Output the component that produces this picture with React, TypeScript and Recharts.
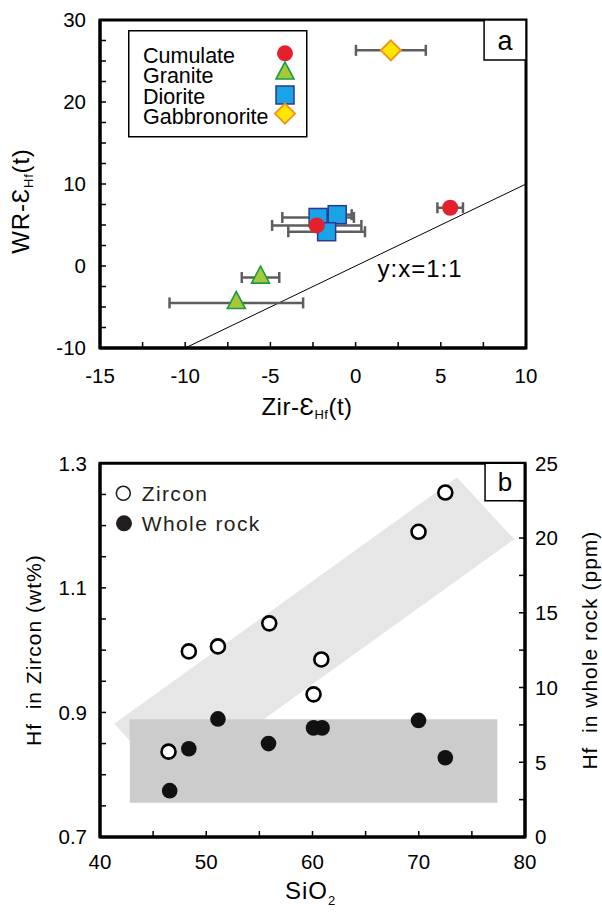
import React from 'react';
import {
  ScatterChart,
  Scatter,
  XAxis,
  YAxis,
  ErrorBar,
  ReferenceLine,
  ReferenceArea,
  ReferenceDot,
  Legend,
  Label,
} from 'recharts';

const FONT = '"Liberation Sans", Arial, Helvetica, sans-serif';

// ---------------- Panel a data ----------------
const cumulate = [
  { x: 5.55, y: 7.1, ex: 0.75 },
  { x: -2.28, y: 4.95, ex: 2.62 },
];
const granite = [
  { x: -5.58, y: -1.4, ex: 1.1 },
  { x: -7.0, y: -4.5, ex: 3.92 },
];
const diorite = [
  { x: -2.2, y: 5.92, ex: 2.1 },
  { x: -1.08, y: 6.26, ex: 0.85 },
  { x: -1.7, y: 4.18, ex: 2.25 },
];
const gabbronorite = [{ x: 2.07, y: 26.3, ex: 2.05 }];

const legendANames = ['Cumulate', 'Granite', 'Diorite', 'Gabbronorite'];
const aXTicks = [-15, -12.5, -10, -7.5, -5, -2.5, 0, 2.5, 5, 7.5, 10];
const aXLabels = [-15, -10, -5, 0, 5, 10];
const aYTicks = [-10, -7.5, -5, -2.5, 0, 2.5, 5, 7.5, 10, 12.5, 15, 17.5, 20, 22.5, 25, 27.5, 30];
const aYLabels = [-10, 0, 10, 20, 30];
const oneToOne = [
  { x: -10, y: -10 },
  { x: 10, y: 10 },
];
const oneToOneLabel = { x: 3.78, y: -1.3, text: 'y:x=1:1' };
const boxA = { x1: 7.54, x2: 10, y1: 25.12, y2: 30, text: 'a' };

// ---------------- Panel b data ----------------
const zirconSiO2 = [46.45, 48.36, 51.1, 55.93, 60.1, 60.83, 69.98, 72.5];
const zirconHf = [0.837, 0.998, 1.006, 1.043, 0.929, 0.985, 1.19, 1.253];
const wrSiO2 = [46.56, 48.36, 51.1, 55.86, 60.1, 60.9, 69.98, 72.5];
const wrHf = [3.1, 5.9, 7.9, 6.25, 7.3, 7.3, 7.8, 5.3];
const bandCorners = [
  { x: 41.33, y: 0.882 },
  { x: 73.59, y: 1.2775 },
  { x: 78.99, y: 1.178 },
  { x: 46.74, y: 0.783 },
];
const wrRange = { x1: 42.8, x2: 77.4, y1: 0.755, y2: 0.889 };
const bXTicks = [40, 45, 50, 55, 60, 65, 70, 75, 80];
const bXLabels = [40, 50, 60, 70, 80];
const bYLTicks = [0.7, 0.75, 0.8, 0.85, 0.9, 0.95, 1.0, 1.05, 1.1, 1.15, 1.2, 1.25, 1.3];
const bYLLabels = [0.7, 0.9, 1.1, 1.3];
const bYRTicks = [0, 2.5, 5, 7.5, 10, 12.5, 15, 17.5, 20, 22.5, 25];
const bYRLabels = [0, 5, 10, 15, 20, 25];
const boxB = { x1: 76.24, x2: 80, y1: 1.24, y2: 1.3, text: 'b' };
const legendBNames = ['Zircon', 'Whole rock'];

const zirconData = zirconSiO2.map((x, i) => ({ x, y: zirconHf[i] }));
const wrData = wrSiO2.map((x, i) => ({ x, y: wrHf[i] }));

// ---------------- styles ----------------
const RED = '#e5202e';
const AXIS_LINE = { stroke: '#000', strokeWidth: 3 };
const TICK_LINE = { stroke: '#000', strokeWidth: 1.5 };
const ERR = { stroke: '#5e5e5e', strokeWidth: 2.5 };
const TICK_FONT = 20.5;

const makeTick = (labels: number[], anchor: string) => (props: any) => {
  const { x, y, payload } = props;
  if (!labels.includes(payload.value)) return <g />;
  return (
    <text x={x} y={y} dy="0.355em" textAnchor={anchor} fontSize={TICK_FONT} fill="#000" fontFamily={FONT}>
      {String(payload.value)}
    </text>
  );
};

const drawCircle = (cx: number, cy: number) => <circle cx={cx} cy={cy} r={8} fill={RED} />;
const drawTriangle = (cx: number, cy: number) => {
  const h = 17;
  const hw = 9;
  const pts = `${cx},${cy - (2 * h) / 3} ${cx + hw},${cy + h / 3} ${cx - hw},${cy + h / 3}`;
  return <polygon points={pts} fill="#a6c93a" stroke="#1d9a46" strokeWidth={1.6} />;
};
const drawSquare = (cx: number, cy: number) => (
  <rect x={cx - 9} y={cy - 9} width={18} height={18} fill="#1ba3e8" stroke="#2b3990" strokeWidth={1.5} />
);
const drawDiamond = (cx: number, cy: number) => (
  <polygon
    points={`${cx},${cy - 10} ${cx + 10},${cy} ${cx},${cy + 10} ${cx - 10},${cy}`}
    fill="#ffe800"
    stroke="#f39221"
    strokeWidth={2}
  />
);
const markersA = [drawCircle, drawTriangle, drawSquare, drawDiamond];

const shapeOf = (fn: (cx: number, cy: number) => any) => (props: any) => fn(props.cx, props.cy);
const emptyShape = () => <g />;

const YLabelA = (p: any) => {
  const vb = p.viewBox || { x: 0, y: 20, width: 100, height: 328 };
  const cx = vb.x + 28.5;
  const cy = vb.y + vb.height / 2 + 17;
  return (
    <text transform={`translate(${cx},${cy}) rotate(-90)`} textAnchor="middle" fontSize={24} fill="#000" fontFamily={FONT} letterSpacing={0.8}>
      WR-Ɛ
      <tspan fontSize={13} dy={4}>Hf</tspan>
      <tspan fontSize={24} dy={-4}>(t)</tspan>
    </text>
  );
};
const XLabelA = (p: any) => {
  const vb = p.viewBox || { x: 100, y: 348, width: 426, height: 82 };
  const cx = vb.x + vb.width / 2 - 6;
  const cy = vb.y + 67;
  return (
    <text x={cx} y={cy} textAnchor="middle" fontSize={24} fill="#000" fontFamily={FONT} letterSpacing={0.5}>
      Zir-Ɛ
      <tspan fontSize={13} dy={4}>Hf</tspan>
      <tspan fontSize={24} dy={-4}>(t)</tspan>
    </text>
  );
};

const YLabelBL = (p: any) => {
  const vb = p.viewBox;
  const cx = vb.x + 41;
  const cy = vb.y + vb.height / 2;
  return (
    <text transform={`translate(${cx},${cy}) rotate(-90)`} textAnchor="middle" fontSize={21} fill="#000" fontFamily={FONT} letterSpacing={1} style={{ whiteSpace: 'pre' }}>
      {'Hf  in Zircon (wt%)'}
    </text>
  );
};
const YLabelBR = (p: any) => {
  const vb = p.viewBox;
  const cx = vb.x + 72;
  const cy = vb.y + vb.height / 2;
  return (
    <text transform={`translate(${cx},${cy}) rotate(-90)`} textAnchor="middle" fontSize={21} fill="#000" fontFamily={FONT} letterSpacing={1} style={{ whiteSpace: 'pre' }}>
      {'Hf  in whole rock (ppm)'}
    </text>
  );
};
const XLabelB = (p: any) => {
  const vb = p.viewBox;
  const cx = vb.x + vb.width / 2 - 2;
  const cy = vb.y + 62;
  return (
    <text x={cx} y={cy} textAnchor="middle" fontSize={24} fill="#000" fontFamily={FONT} letterSpacing={1}>
      SiO
      <tspan fontSize={13} dy={6}>2</tspan>
    </text>
  );
};

const LegendA = () => (
  <svg width={180} height={108} style={{ display: 'block' }}>
    <rect x={0.75} y={0.75} width={178} height={106} fill="#fff" stroke="#000" strokeWidth={1.5} />
    {legendANames.map((name, i) => {
      const baseline = 33.3 + i * 20.1;
      return (
        <g key={name}>
          <text x={15} y={baseline} fontSize={21.5} fill="#000" fontFamily={FONT}>
            {name}
          </text>
          {markersA[i](157, baseline - 10 + (i === 2 ? 1.5 : 0))}
        </g>
      );
    })}
  </svg>
);

const LegendB = () => (
  <svg width={170} height={62} style={{ display: 'block' }}>
    <circle cx={13.3} cy={15.3} r={7} fill="#fff" stroke="#231f20" strokeWidth={1.6} />
    <text x={31.7} y={23} fontSize={21} fill="#231f20" fontFamily={FONT} letterSpacing={1.4}>
      {legendBNames[0]}
    </text>
    <circle cx={14} cy={45.3} r={8} fill="#231f20" />
    <text x={31.7} y={53} fontSize={21} fill="#231f20" fontFamily={FONT} letterSpacing={1.4}>
      {legendBNames[1]}
    </text>
  </svg>
);

const BandShape = (props: any) => {
  const { x, y, width, height } = props;
  const xs = bandCorners.map((c) => c.x);
  const ys = bandCorners.map((c) => c.y);
  const minX = Math.min(...xs);
  const maxX = Math.max(...xs);
  const minY = Math.min(...ys);
  const maxY = Math.max(...ys);
  const pts = bandCorners
    .map((c) => `${x + ((c.x - minX) / (maxX - minX)) * width},${y + ((maxY - c.y) / (maxY - minY)) * height}`)
    .join(' ');
  return <polygon points={pts} fill="#e6e6e6" stroke="none" />;
};

const bandXs = bandCorners.map((c) => c.x);
const bandYs = bandCorners.map((c) => c.y);

export default function App() {
  return (
    <div style={{ position: 'absolute', left: 0, top: 0, width: 602, height: 924, background: '#fff', fontFamily: FONT }}>
      <div style={{ position: 'absolute', left: 0, top: 0 }}>
        <ScatterChart width={602} height={430} margin={{ top: 20, right: 76, bottom: 0, left: 0 }}>
          <XAxis
            type="number"
            dataKey="x"
            domain={[-15, 10]}
            ticks={aXTicks}
            interval={0}
            allowDataOverflow
            height={82}
            tickSize={-6}
            tickMargin={34}
            axisLine={AXIS_LINE}
            tickLine={TICK_LINE}
            tick={makeTick(aXLabels, 'middle')}
          >
            <Label content={XLabelA} />
          </XAxis>
          <YAxis
            type="number"
            dataKey="y"
            domain={[-10, 30]}
            ticks={aYTicks}
            interval={0}
            allowDataOverflow
            width={100}
            tickSize={-6}
            tickMargin={20}
            axisLine={AXIS_LINE}
            tickLine={TICK_LINE}
            tick={makeTick(aYLabels, 'end')}
          >
            <Label content={YLabelA} />
          </YAxis>
          <ReferenceArea x1={-15} x2={10} y1={-10} y2={30} fill="none" fillOpacity={0} stroke="#000" strokeWidth={3} />
          <ReferenceLine segment={oneToOne} stroke="#000" strokeWidth={1} />
          <ReferenceDot
            x={oneToOneLabel.x}
            y={oneToOneLabel.y}
            r={0}
            shape={(p: any) => (
              <text x={p.cx} y={p.cy} textAnchor="middle" fontSize={24} fill="#000" fontFamily={FONT} letterSpacing={1}>
                {oneToOneLabel.text}
              </text>
            )}
          />
          <ReferenceArea
            x1={boxA.x1}
            x2={boxA.x2}
            y1={boxA.y1}
            y2={boxA.y2}
            fill="#fff"
            fillOpacity={1}
            stroke="#000"
            strokeWidth={1.5}
            label={{ value: boxA.text, position: 'center', fontSize: 27, fill: '#000' }}
          />
          <Scatter name="Granite" data={granite} shape={shapeOf(drawTriangle)} isAnimationActive={false}>
            <ErrorBar dataKey="ex" direction="x" width={5.5} {...ERR} />
          </Scatter>
          <Scatter name="Gabbronorite" data={gabbronorite} shape={shapeOf(drawDiamond)} isAnimationActive={false}>
            <ErrorBar dataKey="ex" direction="x" width={5.5} {...ERR} />
          </Scatter>
          <Scatter name="Diorite" data={diorite} shape={shapeOf(drawSquare)} isAnimationActive={false} />
          <Scatter name="Diorite error" data={diorite} shape={emptyShape} isAnimationActive={false} legendType="none">
            <ErrorBar dataKey="ex" direction="x" width={5.5} {...ERR} />
          </Scatter>
          <Scatter name="Cumulate" data={cumulate} shape={shapeOf(drawCircle)} isAnimationActive={false}>
            <ErrorBar dataKey="ex" direction="x" width={5.5} {...ERR} />
          </Scatter>
          <Legend
            layout="horizontal"
            verticalAlign="middle"
            align="center"
            content={LegendA}
            wrapperStyle={{ position: 'absolute', left: 128, top: 30, width: 180, height: 108 }}
          />
        </ScatterChart>
      </div>
      <div style={{ position: 'absolute', left: 0, top: 430 }}>
        <ScatterChart width={602} height={494} margin={{ top: 33.3, right: 0, bottom: 0, left: 0 }}>
          <XAxis
            type="number"
            dataKey="x"
            domain={[40, 80]}
            ticks={bXTicks}
            interval={0}
            allowDataOverflow
            height={87}
            tickSize={-6}
            tickMargin={31}
            axisLine={AXIS_LINE}
            tickLine={TICK_LINE}
            tick={makeTick(bXLabels, 'middle')}
          >
            <Label content={XLabelB} />
          </XAxis>
          <YAxis
            yAxisId="L"
            type="number"
            dataKey="y"
            domain={[0.7, 1.3]}
            ticks={bYLTicks}
            interval={0}
            allowDataOverflow
            width={100}
            tickSize={-6}
            tickMargin={19}
            axisLine={AXIS_LINE}
            tickLine={TICK_LINE}
            tick={makeTick(bYLLabels, 'end')}
          >
            <Label content={YLabelBL} />
          </YAxis>
          <YAxis
            yAxisId="R"
            orientation="right"
            type="number"
            dataKey="y"
            domain={[0, 25]}
            ticks={bYRTicks}
            interval={0}
            allowDataOverflow
            width={77}
            tickSize={-6}
            tickMargin={16}
            axisLine={AXIS_LINE}
            tickLine={TICK_LINE}
            tick={makeTick(bYRLabels, 'start')}
          >
            <Label content={YLabelBR} />
          </YAxis>
          <ReferenceArea
            yAxisId="L"
            x1={Math.min(...bandXs)}
            x2={Math.max(...bandXs)}
            y1={Math.min(...bandYs)}
            y2={Math.max(...bandYs)}
            shape={BandShape}
          />
          <ReferenceArea
            yAxisId="L"
            x1={wrRange.x1}
            x2={wrRange.x2}
            y1={wrRange.y1}
            y2={wrRange.y2}
            fill="#cccccc"
            fillOpacity={1}
            stroke="none"
          />
          <ReferenceArea yAxisId="L" x1={40} x2={80} y1={0.7} y2={1.3} fill="none" fillOpacity={0} stroke="#000" strokeWidth={3} />
          <ReferenceArea
            yAxisId="L"
            x1={boxB.x1}
            x2={boxB.x2}
            y1={boxB.y1}
            y2={boxB.y2}
            fill="#fff"
            fillOpacity={1}
            stroke="#000"
            strokeWidth={1.5}
            label={{ value: boxB.text, position: 'center', fontSize: 26, fill: '#000' }}
          />
          <Scatter
            name="Zircon"
            yAxisId="L"
            data={zirconData}
            isAnimationActive={false}
            shape={(p: any) => <circle cx={p.cx} cy={p.cy} r={7} fill="#fff" stroke="#000" strokeWidth={2.6} />}
          />
          <Scatter
            name="Whole rock"
            yAxisId="R"
            data={wrData}
            isAnimationActive={false}
            shape={(p: any) => <circle cx={p.cx} cy={p.cy} r={7.8} fill="#111" />}
          />
          <Legend
            layout="horizontal"
            verticalAlign="middle"
            align="center"
            content={LegendB}
            wrapperStyle={{ position: 'absolute', left: 110, top: 48, width: 170, height: 62 }}
          />
        </ScatterChart>
      </div>
    </div>
  );
}
